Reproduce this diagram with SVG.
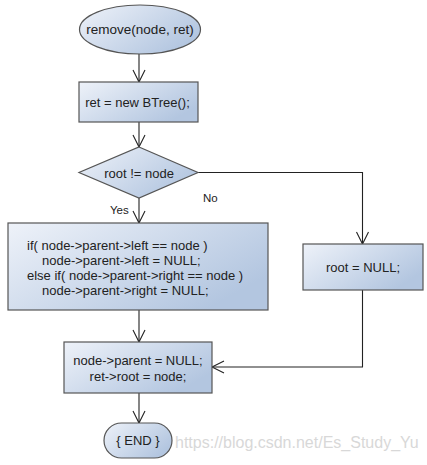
<svg xmlns="http://www.w3.org/2000/svg" width="427" height="465" viewBox="0 0 427 465">
<defs>
<linearGradient id="g" x1="0" y1="0" x2="1" y2="0.6">
<stop offset="0" stop-color="#eef2f9"/>
<stop offset="1" stop-color="#b3c6e0"/>
</linearGradient>
<marker id="arr" viewBox="0 0 12 12" refX="12" refY="6" markerWidth="12" markerHeight="12" markerUnits="userSpaceOnUse" orient="auto" overflow="visible">
<path d="M0,0 L12,6 L0,12" fill="none" stroke="#222" stroke-width="1.1"/>
</marker>
</defs>
<style>
.s{fill:url(#g);stroke:#555;stroke-width:1.2}
.t{font-family:"Liberation Sans",Arial,sans-serif;font-size:13px;fill:#222}
.m{text-anchor:middle}
.c{fill:none;stroke:#222;stroke-width:1.1;marker-end:url(#arr)}
.w{font-family:"Liberation Sans",Arial,sans-serif;font-size:16px;fill:#d8d8d8}
</style>
<rect width="427" height="465" fill="#fff"/>
<g id="connectors">
<path class="c" d="M139,54 V82"/>
<path class="c" d="M139,122 V147"/>
<path class="c" d="M139,198 V223"/>
<path class="c" d="M198,172.5 H362.5 V244"/>
<path class="c" d="M139,310 V342"/>
<path class="c" d="M362.5,290 V367 H212"/>
<path class="c" d="M139,393 V423"/>
<text class="t" x="110" y="214" style="font-size:11.5px">Yes</text>
<text class="t" x="203" y="202" style="font-size:11.5px">No</text>
</g>
<g id="start">
<ellipse class="s" cx="140" cy="29.5" rx="60.5" ry="24.5"/>
<text class="t m" x="140" y="34" style="font-size:13.5px">remove(node, ret)</text>
</g>
<g id="init">
<rect class="s" x="79" y="82" width="119" height="40"/>
<text class="t m" x="137.5" y="106.5">ret = new BTree();</text>
</g>
<g id="decision">
<polygon class="s" points="139,147 198,172.5 139,198 79,172.5"/>
<text class="t m" x="139" y="177.5">root != node</text>
</g>
<g id="unlink">
<rect class="s" x="8" y="223" width="260" height="87"/>
<text class="t" x="27" y="249.5">if( node-&gt;parent-&gt;left == node )</text>
<text class="t" x="42" y="264.5">node-&gt;parent-&gt;left = NULL;</text>
<text class="t" x="27" y="279.5">else if( node-&gt;parent-&gt;right == node )</text>
<text class="t" x="42" y="294.5">node-&gt;parent-&gt;right = NULL;</text>
</g>
<g id="rootnull">
<rect class="s" x="303" y="244" width="120" height="46"/>
<text class="t m" x="363" y="272">root = NULL;</text>
</g>
<g id="finish">
<rect class="s" x="64" y="342" width="148" height="51"/>
<text class="t m" x="138" y="364.5">node-&gt;parent = NULL;</text>
<text class="t m" x="138" y="380.5">ret-&gt;root = node;</text>
</g>
<g id="end">
<rect class="s" x="104" y="423" width="68" height="35" rx="17.5" ry="17.5"/>
<text class="t m" x="138" y="445">{ END }</text>
</g>
<text class="w" x="175" y="448">https://blog.csdn.net/Es_Study_Yu</text>
</svg>
